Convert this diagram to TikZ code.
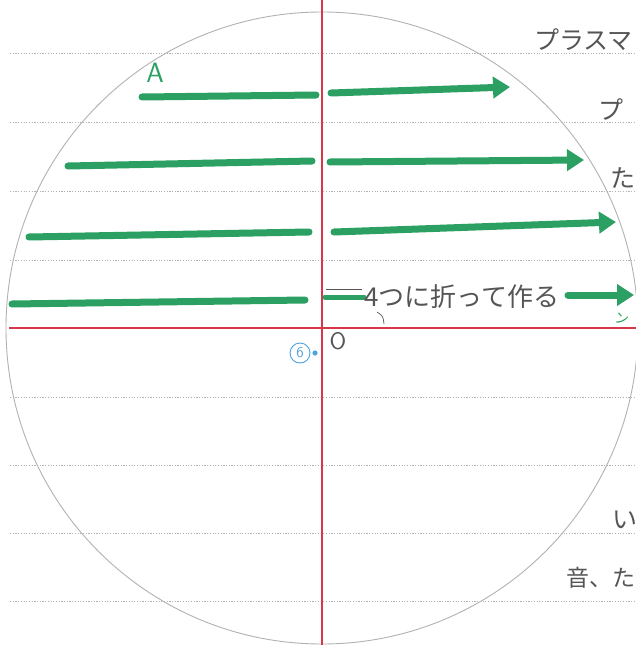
\documentclass[tikz,border=0pt]{standalone}
\usepackage{fontspec}
\newfontfamily\jp{Noto Sans CJK JP}
\usetikzlibrary{arrows.meta}
\definecolor{pen}{HTML}{2BA062}
\definecolor{axisred}{HTML}{D9354B}
\definecolor{inkblue}{HTML}{4FA3DE}
\definecolor{pencil}{HTML}{555555}
\tikzset{
  ruled/.style={draw=gray!60, line width=1pt, dash pattern=on 1.2pt off 1.5pt},
  axisline/.style={draw=axisred, line width=2.2pt},
  marker/.style={draw=pen, line width=7pt, line cap=round},
  markarrow/.style={marker, -{Triangle[length=17pt,width=21pt]}},
  jtext/.style={text=pencil, font=\jp\fontsize{25}{25}\selectfont, inner sep=0pt, anchor=west},
}
\begin{document}
\begin{tikzpicture}[x=1pt,y=-1pt]
\useasboundingbox (0,0) rectangle (636,645);
\clip (0,0) rectangle (636,645);
\fill[white] (0,0) rectangle (636,645);
% ruled notebook lines
\foreach \yy in {53,122,191,260,328,397,465,533,601}
  \draw[ruled] (10,\yy) -- (636,\yy);
% circle
\coordinate (c) at (322,328);
\draw[gray!60, line width=0.9pt] (c) circle[radius=316];
% axes
\coordinate (xl) at (9,328);
\coordinate (xr) at (636,328);
\coordinate (yt) at (322,0);
\coordinate (yb) at (322,645);
\draw[axisline] (xl) -- (xr);
\draw[axisline] (yt) -- (yb);
% green strokes
\coordinate (a1s) at (142,97); \coordinate (a1e) at (316,95);
\coordinate (b1s) at (331,93); \coordinate (b1e) at (510,87);
\coordinate (a2s) at (68,166); \coordinate (a2e) at (312,161);
\coordinate (b2s) at (330,162); \coordinate (b2e) at (584,160);
\coordinate (a3s) at (29,237); \coordinate (a3e) at (309,232);
\coordinate (b3s) at (334,232); \coordinate (b3e) at (616,222);
\coordinate (a4s) at (12,304); \coordinate (a4e) at (305,300);
\coordinate (b4s) at (325,297); \coordinate (b4e) at (364,297);
\coordinate (c4s) at (568,295); \coordinate (c4e) at (634,295);
\draw[marker] (a1s) -- (a1e);
\draw[markarrow] (b1s) -- (b1e);
\draw[marker] (a2s) -- (a2e);
\draw[markarrow] (b2s) -- (b2e);
\draw[marker] (a3s) -- (a3e);
\draw[markarrow] (b3s) -- (b3e);
\draw[marker] (a4s) -- (a4e);
\draw[marker, line width=5pt] (b4s) -- (b4e);
\draw[pencil, line width=0.8pt] (326,289) -- (362,289);
\draw[markarrow] (c4s) -- (c4e);
% labels
\node[text=pen, font=\sffamily\fontsize{28}{28}\selectfont, inner sep=0pt] (A) at (155,73) {A};
\node[jtext, font=\jp\fontsize{26}{26}\selectfont] (fold) at (364,297) {4つに折って作る};
\draw[pencil, line width=0.7pt] (377,312) .. controls (383,316) .. (384,324);
\node[text=pen, font=\jp\fontsize{14}{14}\selectfont, inner sep=0pt, rotate=-10] (n) at (622,319) {ン};
\node[text=pencil, font=\sffamily\fontsize{24}{24}\selectfont, inner sep=0pt] (O) at (338,341) {O};
\node[draw=inkblue, circle, line width=0.9pt, inner sep=0pt, minimum size=20pt, text=inkblue, font=\sffamily\fontsize{15}{15}\selectfont] (six) at (300,353) {6};
\fill[inkblue] (315,353) circle[radius=2.6];
% right margin text
\node[jtext] (t1) at (534,40) {プラスマ};
\node[jtext] (t2) at (598,110) {プ};
\node[jtext] (t3) at (610,178) {た};
\node[jtext] (t4) at (612,520) {い};
\node[jtext, font=\jp\fontsize{23}{23}\selectfont] (t5) at (566,578) {音、た};
\end{tikzpicture}
\end{document}
